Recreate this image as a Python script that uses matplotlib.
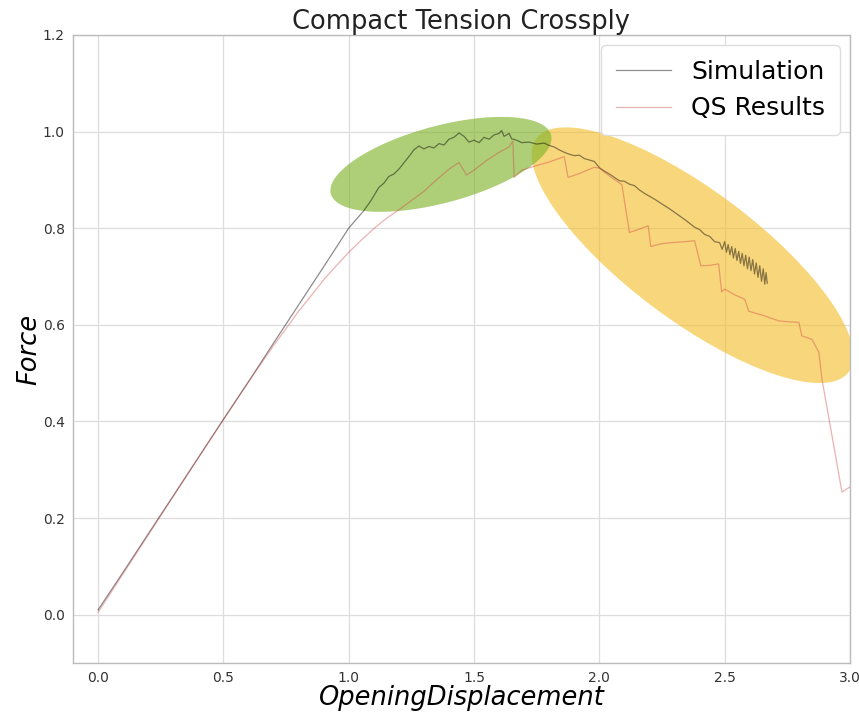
import matplotlib
matplotlib.use("Agg")
import matplotlib.pyplot as plt
from matplotlib.patches import Ellipse
from matplotlib.transforms import ScaledTranslation

title = "Compact Tension Crossply"
xlabel = "OpeningDisplacement"
ylabel = "Force"
series_names = ["Simulation", "QS Results"]

sim_x = [0.00, 0.10, 0.20, 0.30, 0.40, 0.50, 0.60, 0.70, 0.80, 0.90, 1.00,
         1.03, 1.06, 1.09, 1.12, 1.14, 1.16, 1.18, 1.20, 1.22, 1.24, 1.26,
         1.28, 1.30, 1.32, 1.34, 1.36, 1.38, 1.40, 1.42, 1.44, 1.46, 1.48,
         1.50, 1.52, 1.54, 1.56, 1.58, 1.60, 1.61, 1.62, 1.64, 1.65, 1.67,
         1.69, 1.72, 1.75, 1.78, 1.80, 1.82, 1.84, 1.86, 1.88, 1.90, 1.92,
         1.94, 1.96, 1.98, 2.00, 2.02, 2.04, 2.06, 2.08, 2.10, 2.12, 2.14,
         2.16, 2.18, 2.20, 2.22, 2.25, 2.28, 2.31, 2.34, 2.36, 2.38, 2.40,
         2.42, 2.44, 2.46, 2.48, 2.49,
         2.500, 2.507, 2.514, 2.521, 2.528, 2.535, 2.542, 2.549, 2.556,
         2.563, 2.570, 2.577, 2.584, 2.591, 2.598, 2.605, 2.612, 2.619,
         2.626, 2.633, 2.640, 2.647, 2.654, 2.660, 2.665, 2.670]
sim_y = [0.010, 0.088, 0.167, 0.246, 0.325, 0.404, 0.482, 0.562, 0.641, 0.720, 0.800,
         0.818, 0.836, 0.858, 0.884, 0.893, 0.907, 0.912, 0.922, 0.935, 0.948, 0.962,
         0.970, 0.964, 0.969, 0.966, 0.975, 0.972, 0.984, 0.988, 0.997, 0.990, 0.978,
         0.982, 0.977, 0.988, 0.984, 0.993, 0.996, 1.002, 0.990, 0.996, 0.985, 0.982,
         0.977, 0.978, 0.974, 0.976, 0.971, 0.968, 0.962, 0.957, 0.953, 0.950, 0.951,
         0.944, 0.941, 0.938, 0.925, 0.918, 0.912, 0.905, 0.898, 0.897, 0.891, 0.888,
         0.879, 0.872, 0.866, 0.860, 0.850, 0.840, 0.829, 0.818, 0.810, 0.802, 0.797,
         0.787, 0.783, 0.772, 0.770, 0.756,
         0.772, 0.750, 0.766, 0.745, 0.762, 0.738, 0.758, 0.733, 0.752,
         0.727, 0.748, 0.722, 0.744, 0.716, 0.740, 0.712, 0.735, 0.705,
         0.728, 0.698, 0.722, 0.690, 0.716, 0.684, 0.708, 0.686]

qs_x = [0.00, 0.10, 0.20, 0.30, 0.40, 0.50, 0.60, 0.70, 0.75, 0.80, 0.85, 0.90,
        0.95, 1.00, 1.05, 1.10, 1.15, 1.20, 1.25, 1.30, 1.35, 1.40, 1.44, 1.47,
        1.50, 1.55, 1.60, 1.64, 1.655, 1.660, 1.69, 1.74, 1.80, 1.86, 1.875,
        1.92, 1.98, 2.00, 2.04, 2.09, 2.12, 2.16, 2.195, 2.205, 2.25, 2.29,
        2.34, 2.38, 2.405, 2.44, 2.476, 2.488, 2.50, 2.54, 2.58, 2.596, 2.65,
        2.716, 2.76, 2.796, 2.808, 2.848, 2.876, 2.888, 2.968, 3.008]
qs_y = [0.005, 0.085, 0.165, 0.245, 0.325, 0.404, 0.482, 0.557, 0.592, 0.628, 0.660, 0.693,
        0.722, 0.750, 0.775, 0.799, 0.820, 0.838, 0.857, 0.876, 0.900, 0.922, 0.936, 0.910,
        0.920, 0.940, 0.957, 0.968, 0.980, 0.905, 0.920, 0.928, 0.937, 0.948, 0.905,
        0.913, 0.926, 0.924, 0.908, 0.890, 0.791, 0.798, 0.805, 0.762, 0.768, 0.770,
        0.772, 0.774, 0.722, 0.723, 0.726, 0.668, 0.674, 0.662, 0.653, 0.628, 0.620,
        0.608, 0.606, 0.605, 0.577, 0.570, 0.543, 0.488, 0.254, 0.267]

x_ticks = [0.0, 0.5, 1.0, 1.5, 2.0, 2.5, 3.0]
y_ticks = [0.0, 0.2, 0.4, 0.6, 0.8, 1.0, 1.2]

fig = plt.figure(figsize=(8.59, 7.13), dpi=100)
ax = fig.add_axes([0.085, 0.0701, 0.9045, 0.881])

ax.plot(sim_x, sim_y, color="black", alpha=0.45, lw=0.9, label=series_names[0], zorder=3)
ax.plot(qs_x, qs_y, color="#d04848", alpha=0.42, lw=0.9, label=series_names[1], zorder=3)

ax.set_xlim(-0.1, 3.0)
ax.set_ylim(-0.1, 1.2)
ax.set_xticks(x_ticks)
ax.set_yticks(y_ticks)
ax.tick_params(length=0, labelsize=10, colors="#333333", pad=6)
ax.grid(True, color="#dddddd", lw=0.9)
ax.set_axisbelow(True)
for s in ax.spines.values():
    s.set_color("#bbbbbb")
    s.set_linewidth(1.0)

ax.set_title(title, fontsize=18.5, color="#222222", pad=3)
ax.set_xlabel(xlabel, fontsize=18.5, style="italic", labelpad=0)
ax.set_ylabel(ylabel, fontsize=18.5, style="italic", labelpad=0)

# highlight ellipses: centre in data units, size in inches, angle in screen space
orange = Ellipse((0, 0), 3.90, 1.30, angle=-36.8, facecolor="#F5BE2A", alpha=0.62,
                 edgecolor="none", zorder=2,
                 transform=fig.dpi_scale_trans + ScaledTranslation(2.372, 0.744, ax.transData))
green = Ellipse((0, 0), 2.28, 0.77, angle=15.0, facecolor="#80B42A", alpha=0.64,
                edgecolor="none", zorder=2,
                transform=fig.dpi_scale_trans + ScaledTranslation(1.368, 0.932, ax.transData))
ax.add_patch(orange)
ax.add_patch(green)

leg = ax.legend(loc="upper right", fontsize=18, frameon=True, borderaxespad=0.4,
                handlelength=2.2, borderpad=0.6)
leg.get_frame().set_edgecolor("#dddddd")
leg.get_frame().set_alpha(1.0)

fig.savefig("out.png", dpi=100)
